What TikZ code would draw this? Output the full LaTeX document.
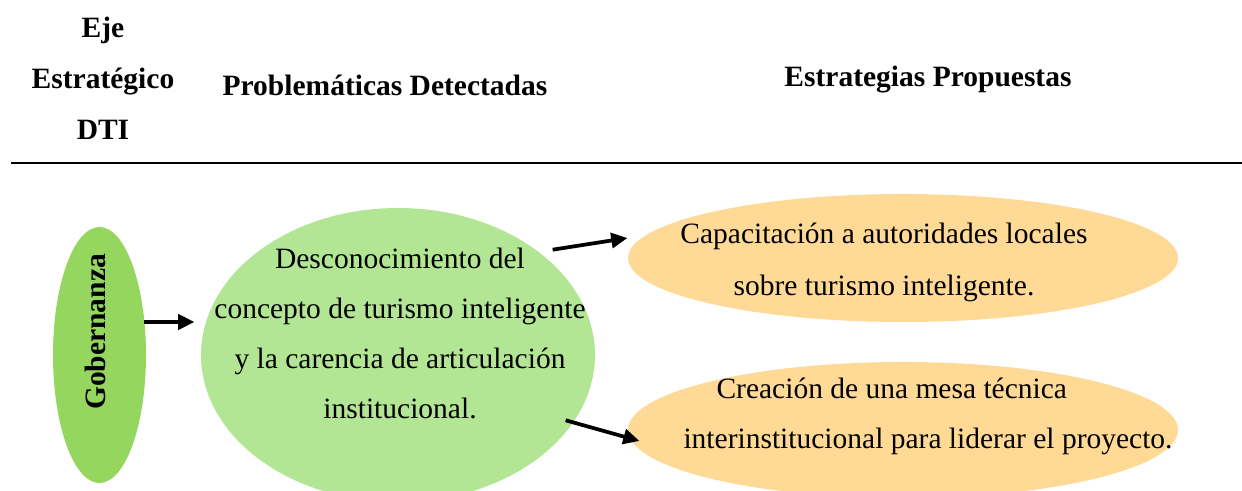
\documentclass[tikz,border=0pt]{standalone}
\usepackage[usenames,dvipsnames]{xcolor}
\usepackage{fontspec}
\setmainfont{Liberation Serif}
\usetikzlibrary{arrows.meta,shapes.geometric}
\definecolor{VerdeFuerte}{HTML}{95D65F}
\definecolor{VerdeClaro}{HTML}{B3E694}
\definecolor{Naranja}{HTML}{FFD996}

\begin{document}
\begin{tikzpicture}[x=0.4pt,y=-0.4pt]
    \tikzstyle{HeadStyle}=[font=\bfseries\fontsize{11.8}{20.4}\selectfont, inner sep=0pt, align=center]
    \tikzstyle{TextStyle}=[font=\fontsize{11.8}{20}\selectfont, inner sep=0pt, align=center]
    \tikzstyle{EllipseStyle}=[shape=ellipse, inner sep=0pt, draw=none]
    \tikzstyle{EdgeStyle}=[line width=1.5pt, -{Triangle[length=6.5pt,width=6pt]}]
   \useasboundingbox (0,0) rectangle (1242,491);
   % encabezado
   \node[HeadStyle] (H1) at (103,78) {Eje\\Estratégico\\DTI};
   \node[HeadStyle, anchor=base] (H2) at (385,96) {Problemáticas Detectadas};
   \node[HeadStyle, anchor=base] (H3) at (928,87) {Estrategias Propuestas};
   \coordinate (L1) at (11,163);
   \coordinate (L2) at (1242,163);
   \draw[line width=0.9pt] (L1) -- (L2);
   % elipses
   \node[EllipseStyle, fill=VerdeFuerte, minimum width=37.2pt, minimum height=102.4pt] (G) at (99.5,355) {};
   \node[EllipseStyle, fill=VerdeClaro, minimum width=157.6pt, minimum height=117.6pt] (P) at (398,355) {};
   \node[EllipseStyle, fill=Naranja, minimum width=220pt, minimum height=51.2pt] (C) at (903,258) {};
   \node[EllipseStyle, fill=Naranja, minimum width=220pt, minimum height=54.4pt] (M) at (903,430) {};
   % textos
   \node[HeadStyle, rotate=90] (GT) at ([shift={(-4,-23)}]G.center) {Gobernanza};
   \node[TextStyle] (PT) at (400,333) {Desconocimiento del\\concepto de turismo inteligente\\y la carencia de articulación\\institucional.};
   \node[TextStyle, font=\fontsize{11.8}{20.8}\selectfont] (CT) at (884,262) {Capacitación a autoridades locales\\sobre turismo inteligente.};
   \node[TextStyle, align=left, anchor=west] (MT) at (683,416) {\hspace*{13.2pt}Creación de una mesa técnica\\interinstitucional para liderar el proyecto.};
   % flechas
   \draw[EdgeStyle] ([shift={(-3,-33)}]G.east) -- ([shift={(-6,-33)}]P.west);
   \draw[EdgeStyle] ([shift={(15,-1)}]P.north east) -- ([shift={(0,-20)}]C.west);
   \draw[EdgeStyle] ([shift={(28,-39)}]P.south east) -- ([shift={(12,11)}]M.west);
  \end{tikzpicture}
\end{document}
